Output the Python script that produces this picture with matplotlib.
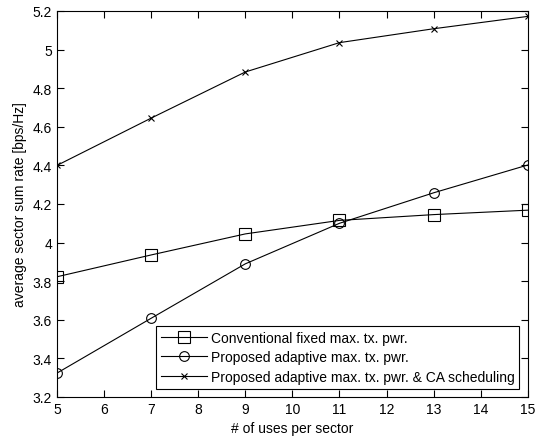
import matplotlib
matplotlib.use("Agg")
import matplotlib.pyplot as plt

users = [5, 7, 9, 11, 13, 15]
conv_fixed = [3.823, 3.936, 4.045, 4.115, 4.145, 4.168]
prop_adaptive = [3.324, 3.608, 3.89, 4.10, 4.258, 4.402]
prop_adaptive_ca = [4.40, 4.645, 4.884, 5.036, 5.108, 5.172]

labels = ["Conventional fixed max. tx. pwr.",
          "Proposed adaptive max. tx. pwr.",
          "Proposed adaptive max. tx. pwr. & CA scheduling"]

plt.rcParams["font.family"] = ["Liberation Sans", "DejaVu Sans"]

fig = plt.figure(figsize=(5.43, 4.39), dpi=100)
ax = fig.add_axes([0.105, 0.0934, 0.867, 0.8793])

ax.plot(users, conv_fixed, "k-s", lw=0.8, ms=8, mfc="none", mew=0.8, label=labels[0])
ax.plot(users, prop_adaptive, "k-o", lw=0.8, ms=7, mfc="none", mew=0.8, label=labels[1])
ax.plot(users, prop_adaptive_ca, "k-x", lw=0.8, ms=5, mew=0.8, label=labels[2])

ax.set_xlim(5, 15)
ax.set_ylim(3.2, 5.2)
ax.set_xticks(range(5, 16))
ax.set_yticks([3.2, 3.4, 3.6, 3.8, 4.0, 4.2, 4.4, 4.6, 4.8, 5.0, 5.2])
ax.set_yticklabels(["3.2", "3.4", "3.6", "3.8", "4", "4.2", "4.4", "4.6", "4.8", "5", "5.2"])
ax.tick_params(direction="in", top=True, right=True, labelsize=10, length=5, width=0.8)
for s in ax.spines.values():
    s.set_linewidth(0.8)

ax.set_xlabel("# of uses per sector", fontsize=10)
ax.set_ylabel("average sector sum rate [bps/Hz]", fontsize=10)

leg = ax.legend(loc="lower right", fontsize=10, fancybox=False, edgecolor="black",
                framealpha=1, borderaxespad=0.6, handlelength=3.3, labelspacing=0.4,
                borderpad=0.35, handletextpad=0.3)
leg.get_frame().set_linewidth(0.8)

fig.savefig("out.png", dpi=100)
